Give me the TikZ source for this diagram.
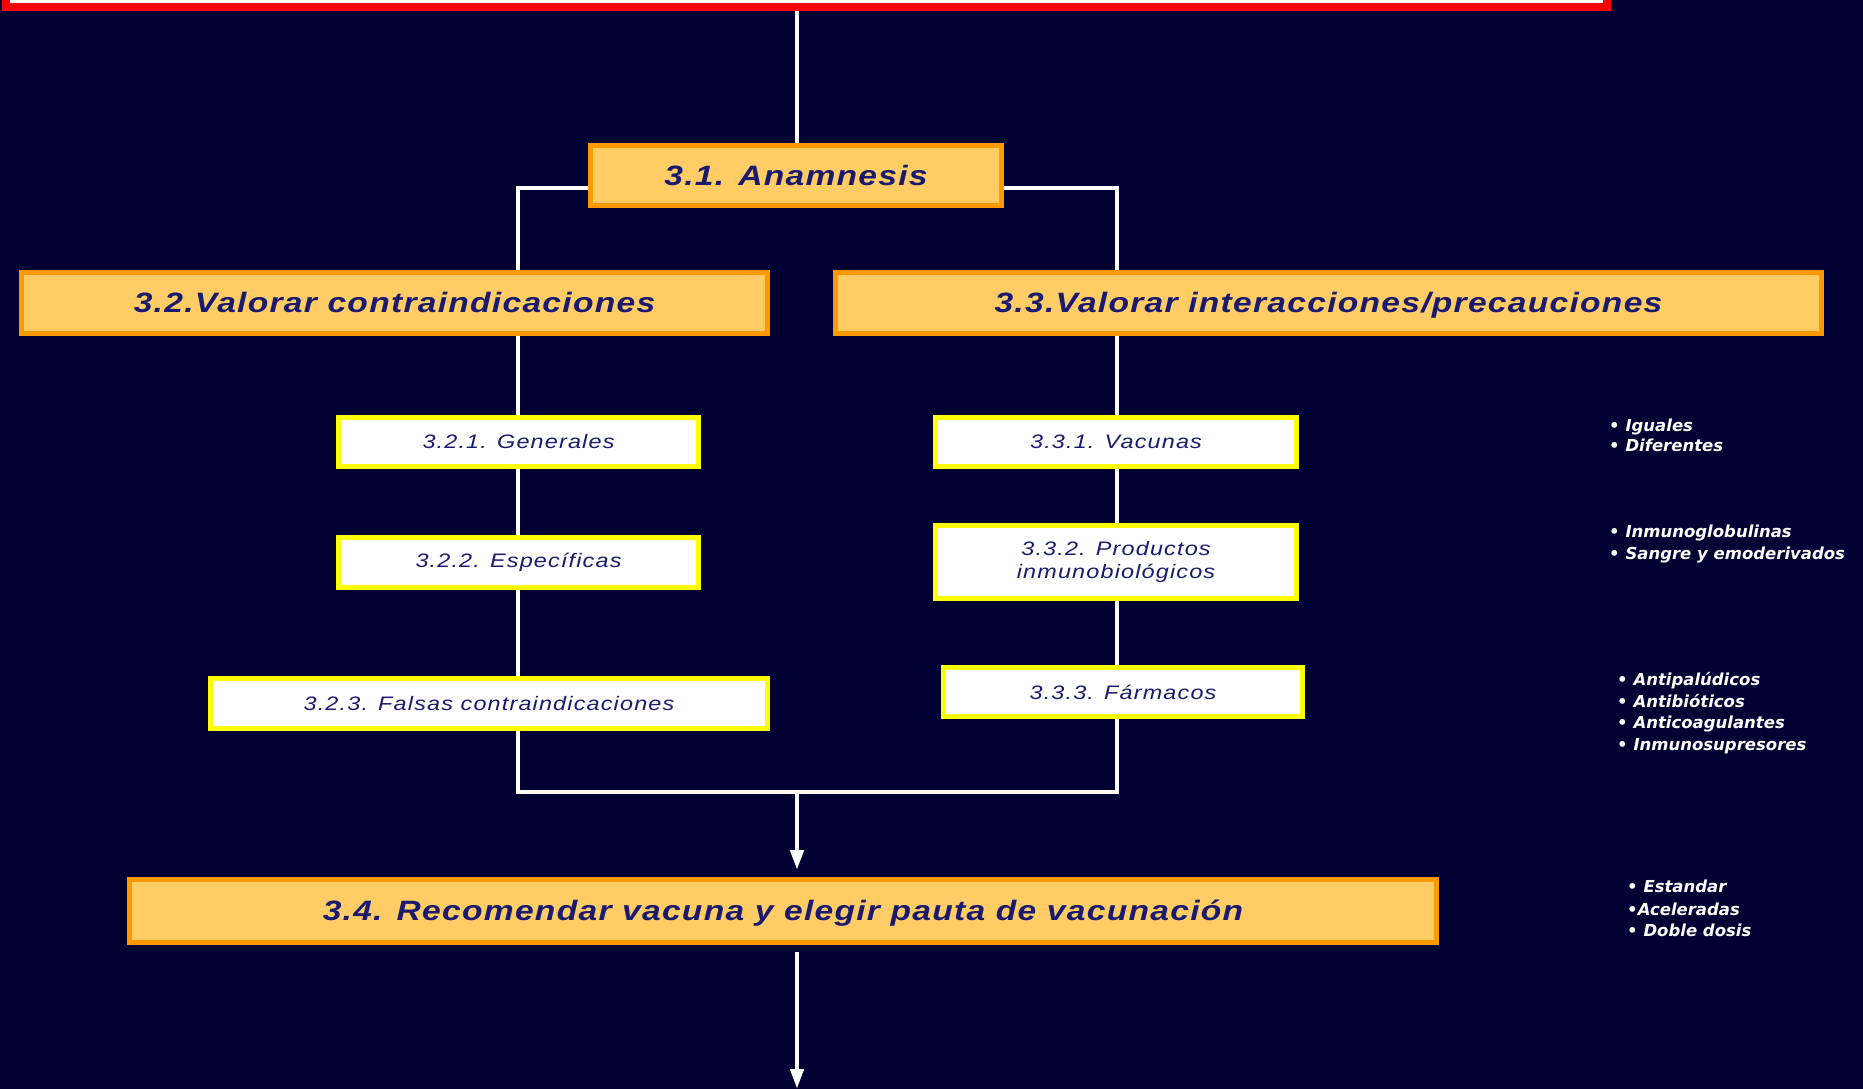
\documentclass[tikz,border=0pt]{standalone}
\usepackage{fontspec}
\setmainfont{Liberation Sans}
\newfontfamily\listfont{DejaVu Sans}
\usetikzlibrary{arrows.meta}
\pgfdeclarelayer{back}
\pgfsetlayers{back,main}

\definecolor{bgnavy}{RGB}{0,0,51}
\definecolor{boxorange}{RGB}{255,153,0}
\definecolor{boxfill}{RGB}{255,204,102}
\definecolor{inkblue}{RGB}{26,26,110}
\definecolor{edgeyellow}{RGB}{255,255,0}

\tikzset{
  mainbox/.style={draw=boxorange, fill=boxfill, line width=5pt, inner sep=0pt,
    text height=25pt, text depth=6pt,
    text=inkblue, font=\fontsize{28}{32}\selectfont\bfseries\itshape\addfontfeature{FakeStretch=1.2,LetterSpace=4.5}},
  subbox/.style={draw=edgeyellow, fill=white, line width=5pt, inner sep=0pt, align=center,
    text=inkblue, font=\fontsize{19.5}{23}\selectfont\itshape\addfontfeature{FakeStretch=1.2,LetterSpace=6}},
  sideitem/.style={text=white, anchor=base west, inner sep=0pt,
    font=\listfont\fontsize{16.5}{22}\selectfont\bfseries\itshape},
  conn/.style={draw=white, line width=4.5pt},
  arrowconn/.style={conn, -{Triangle[length=20pt,width=13pt]}},
}

\begin{document}
\begin{tikzpicture}[x=1pt, y=-1pt]
\useasboundingbox (0,0) rectangle (1863,1089);
\clip (0,0) rectangle (1863,1089);

% header box (only its lower part is visible)
\node[draw=red, fill=white, line width=8pt, minimum width=1601pt, minimum height=94pt] (top) at (806.5,-40) {};

% main steps
\node[mainbox, minimum width=411pt, minimum height=60pt] (ana) at (796,175.5) {3.1. Anamnesis};
\node[mainbox, minimum width=746pt, minimum height=61pt] (c32) at (394.5,303) {3.2.Valorar contraindicaciones};
\node[mainbox, minimum width=986pt, minimum height=61pt] (c33) at (1328.5,303) {3.3.Valorar interacciones/precauciones};
\node[mainbox, minimum width=1307pt, minimum height=63pt] (r34) at (783,911) {3.4. Recomendar vacuna y elegir pauta de vacunación};

% sub-steps
\node[subbox, minimum width=360pt, minimum height=49pt] (g321) at (518.5,442) {3.2.1. Generales};
\node[subbox, minimum width=360pt, minimum height=50pt] (g322) at (518.5,562.5) {3.2.2. Específicas};
\node[subbox, minimum width=557pt, minimum height=50pt] (g323) at (489,703.5) {3.2.3. Falsas contraindicaciones};
\node[subbox, minimum width=361pt, minimum height=49pt] (v331) at (1116,442) {3.3.1. Vacunas};
\node[subbox, minimum width=361pt, minimum height=73pt] (v332) at (1116,562) {3.3.2. Productos\\inmunobiológicos};
\node[subbox, minimum width=359pt, minimum height=49pt] (v333) at (1123,692) {3.3.3. Fármacos};

% side notes
\node[sideitem] (n1a) at (1609,431) {• Iguales};
\node[sideitem] (n1b) at (1609,451) {• Diferentes};
\node[sideitem] (n2a) at (1609,537) {• Inmunoglobulinas};
\node[sideitem] (n2b) at (1609,559) {• Sangre y emoderivados};
\node[sideitem] (n3a) at (1617,685) {• Antipalúdicos};
\node[sideitem] (n3b) at (1617,707) {• Antibióticos};
\node[sideitem] (n3c) at (1617,728) {• Anticoagulantes};
\node[sideitem] (n3d) at (1617,750) {• Inmunosupresores};
\node[sideitem] (n4a) at (1627,892) {• Estandar};
\node[sideitem] (n4b) at (1627,915) {•Aceleradas};
\node[sideitem] (n4c) at (1627,936) {• Doble dosis};

% junction frame corners
\coordinate (jtl) at (518,188);
\coordinate (jbr) at (1117,792);
\coordinate (jmid) at (797,792);
\coordinate (outlet) at (797,1089);

\begin{pgfonlayer}{back}
  \fill[bgnavy] (0,0) rectangle (1863,1089);
  \draw[conn] (top.south -| jmid) -- (ana.north -| jmid);
  \draw[conn] (jtl) rectangle (jbr);
  \draw[arrowconn, shorten >=7pt] (jmid) -- (jmid |- r34.north);
  \draw[arrowconn, shorten <=7pt] (jmid |- r34.south) -- (outlet);
\end{pgfonlayer}
\end{tikzpicture}
\end{document}
